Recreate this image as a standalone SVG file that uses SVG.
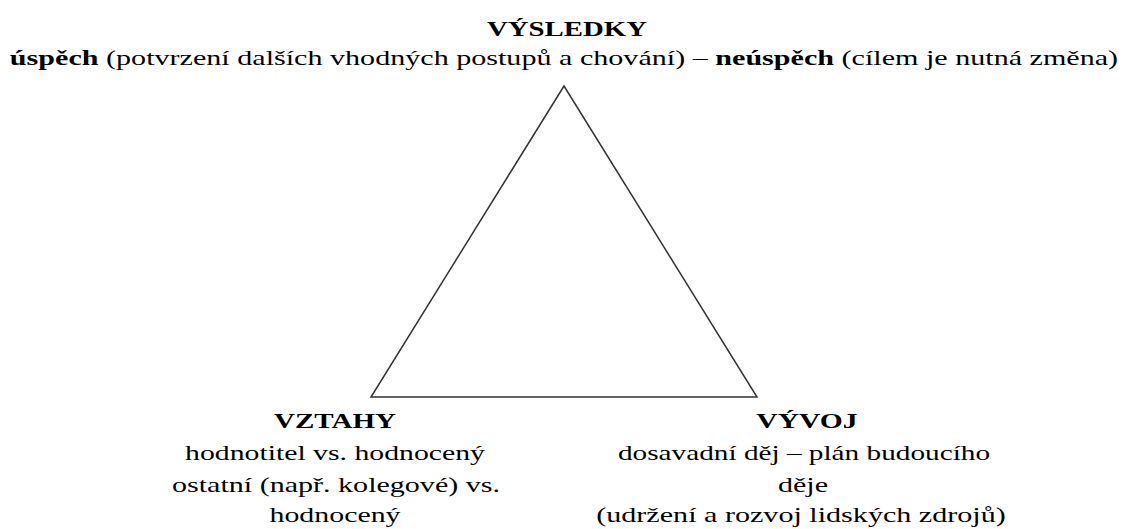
<svg xmlns="http://www.w3.org/2000/svg" width="1123" height="529" viewBox="0 0 1123 529">
<style>
text{font-family:"Liberation Serif","Times New Roman",serif;fill:#000;font-size:22px;text-anchor:middle}
.b{font-weight:bold}
.tri{fill:none;stroke:#333;stroke-width:1.5}
</style>
<rect width="1123" height="529" fill="#fff"/>
<g id="connectors">
<polygon class="tri" points="564,86 371,397 757,397"/>
</g>
<g id="vysledky">
<text class="b" transform="translate(567,36) scale(1.31,1)">VÝSLEDKY</text>
<text transform="translate(564,65) scale(1.368,1)"><tspan class="b">úspěch</tspan> (potvrzení dalších vhodných postupů a chování) – <tspan class="b">neúspěch</tspan> (cílem je nutná změna)</text>
</g>
<g id="vztahy">
<text class="b" transform="translate(335,428) scale(1.32,1)">VZTAHY</text>
<text transform="translate(335,460) scale(1.352,1)">hodnotitel vs. hodnocený</text>
<text transform="translate(336,492) scale(1.366,1)">ostatní (např. kolegové) vs.</text>
<text transform="translate(335,522) scale(1.357,1)">hodnocený</text>
</g>
<g id="vyvoj">
<text class="b" transform="translate(807,428) scale(1.345,1)">VÝVOJ</text>
<text transform="translate(804,460) scale(1.33,1)">dosavadní děj – plán budoucího</text>
<text transform="translate(803,492) scale(1.364,1)">děje</text>
<text transform="translate(801,522) scale(1.369,1)">(udržení a rozvoj lidských zdrojů)</text>
</g>
</svg>
